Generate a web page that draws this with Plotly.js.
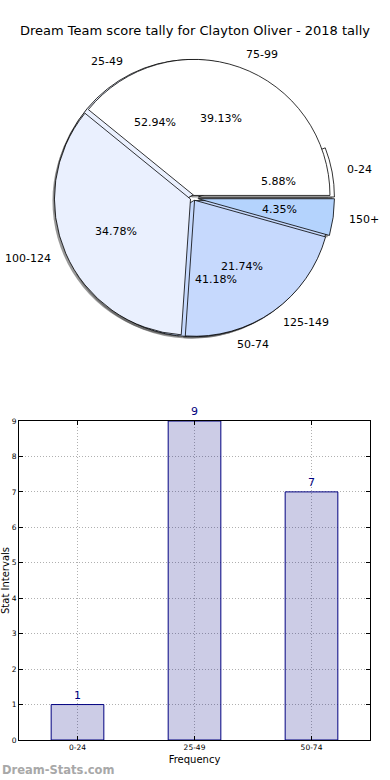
<!DOCTYPE html>
<html>
<head>
<meta charset="utf-8">
<script src="https://cdn.plot.ly/plotly-3.0.1.min.js"></script>
<style>html,body{margin:0;padding:0;background:#fff}#chart{width:390px;height:780px}</style>
</head>
<body>
<div id="chart"></div>
<script>
// ---- data ----
const titleText = "Dream Team score tally for Clayton Oliver - 2018 tally";
const pieALabels = ["0-24", "25-49", "50-74"];
const pieAValues = [1, 9, 7];
const pieAColors = ["#ffffff", "#eaf0fe", "#c6d9fd"];
const pieAPull = [0.04, 0.02, 0.02];
const pieBLabels = ["75-99", "100-124", "125-149", "150+"];
const pieBValues = [9, 8, 5, 1];
const pieBColors = ["#ffffff", "#eaf0fe", "#c6d9fd", "#b4d3fd"];
const pieBPull = [0.02, 0.02, 0.02, 0.04];
const barCats = ["0-24", "25-49", "50-74"];
const barValues = [1, 9, 7];
const yTicks = [0, 1, 2, 3, 4, 5, 6, 7, 8, 9];

// ---- layout geometry ----
const W = 390, H = 780;
const M = {l: 19, r: 20, t: 0, b: 40};
const plotW = W - M.l - M.r, plotH = H - M.t - M.b;
const pieCx = 193, pieCy = 198, pieHalf = 141.5;   // pixel centre and half-size of the pie domain
const pieDomX = [(pieCx - pieHalf - M.l) / plotW, (pieCx + pieHalf - M.l) / plotW];
const pieDomY = [(H - M.b - pieCy - pieHalf) / plotH, (H - M.b - pieCy + pieHalf) / plotH];
const maxPull = 0.04;
const FONT = "DejaVu Sans, sans-serif";

function pieTrace(labels, values, colors, pull, dx, dy, lineW) {
  const tot = values.reduce((a, b) => a + b, 0);
  // first slice starts at 3 o'clock and runs counterclockwise (matplotlib default)
  const rot = 90 - 360 * values[0] / tot;
  return {
    type: "pie", labels: labels, values: values, sort: false,
    direction: "counterclockwise", rotation: rot, pull: pull,
    marker: {colors: colors, line: {color: "#000", width: lineW}},
    textinfo: "none", hoverinfo: "skip", showlegend: false,
    domain: {x: [pieDomX[0] + dx / plotW, pieDomX[1] + dx / plotW],
             y: [pieDomY[0] + dy / plotH, pieDomY[1] + dy / plotH]}
  };
}

const shadowCol = v => v.map(() => "rgba(70,70,70,0.55)");
const traces = [
  pieTrace(pieALabels, pieAValues, shadowCol(pieAValues), pieAPull, -2, -2, 0),
  pieTrace(pieBLabels, pieBValues, shadowCol(pieBValues), pieBPull, -2, -2, 0),
  pieTrace(pieALabels, pieAValues, pieAColors, pieAPull, 0, 0, 0.8),
  pieTrace(pieBLabels, pieBValues, pieBColors, pieBPull, 0, 0, 0.8),
  {
    type: "bar", x: barCats, y: barValues, width: 0.45,
    marker: {color: "rgba(0,0,128,0.2)", line: {color: "#000080", width: 1}},
    text: barValues.map(String), textposition: "outside", cliponaxis: false,
    textfont: {color: "#000080", size: 11, family: FONT},
    hoverinfo: "skip", showlegend: false, xaxis: "x", yaxis: "y"
  }
];

// ---- pie text annotations (matplotlib-style placement computed from values) ----
const domWpx = plotW * (pieDomX[1] - pieDomX[0]);
const domHpx = plotH * (pieDomY[1] - pieDomY[0]);
const R = Math.min(domWpx, domHpx) / (2 + 2 * maxPull);
const cx = (pieDomX[0] + pieDomX[1]) / 2, cy = (pieDomY[0] + pieDomY[1]) / 2;
const annotations = [];
function pieAnnots(labels, values, pull) {
  const tot = values.reduce((a, b) => a + b, 0);
  let cum = 0;
  values.forEach((v, i) => {
    const mid = (cum + v / 2) / tot * 2 * Math.PI;
    cum += v;
    const c = Math.cos(mid), s = Math.sin(mid);
    const ox = pull[i] * R * c, oy = pull[i] * R * s;
    annotations.push({
      xref: "paper", yref: "paper", showarrow: false,
      x: cx + (ox + 0.6 * R * c) / plotW, y: cy + (oy + 0.6 * R * s) / plotH,
      text: (v / tot * 100).toFixed(2) + "%", xanchor: "center", yanchor: "middle",
      font: {size: 11, color: "#000", family: FONT}
    });
    annotations.push({
      xref: "paper", yref: "paper", showarrow: false,
      x: cx + (ox + 1.1 * R * c) / plotW, y: cy + (oy + 1.1 * R * s) / plotH,
      text: labels[i], xanchor: c > 0 ? "left" : "right", yanchor: "middle",
      font: {size: 11, color: "#000", family: FONT}
    });
  });
}
pieAnnots(pieALabels, pieAValues, pieAPull);
pieAnnots(pieBLabels, pieBValues, pieBPull);
annotations.push({
  xref: "paper", yref: "paper", showarrow: false,
  x: -M.l / plotW, y: -30 / plotH, xanchor: "left", yanchor: "middle",
  text: "<b>Dream-Stats.com</b>", font: {size: 11.5, color: "#a8a8a8", family: FONT}
});

const axisCommon = {
  showline: true, linecolor: "#000", linewidth: 1, mirror: "ticks",
  ticks: "inside", ticklen: 4, tickcolor: "#000",
  showgrid: true, gridcolor: "#b0b0b0", griddash: "1px,2px", gridwidth: 1,
  zeroline: false, tickfont: {size: 7.5, color: "#000", family: FONT}
};

const layout = {
  width: W, height: H, margin: M,
  paper_bgcolor: "#fff", plot_bgcolor: "#fff",
  font: {family: FONT, color: "#000"},
  title: {text: titleText, font: {size: 13, family: FONT, color: "#000"},
          x: 0.5, xref: "container", y: 1 - 30 / H, yref: "container", yanchor: "middle"},
  xaxis: Object.assign({}, axisCommon, {
    type: "category", range: [-0.5, 2.5], domain: [0, 1], anchor: "y",
    title: {text: "Frequency", font: {size: 10, family: FONT}, standoff: 4}
  }),
  yaxis: Object.assign({}, axisCommon, {
    range: [0, 9], tickvals: yTicks, domain: [0, (740 - 421) / plotH], anchor: "x",
    title: {text: "Stat Intervals", font: {size: 10, family: FONT}, standoff: 4}
  }),
  annotations: annotations,
  showlegend: false
};

Plotly.newPlot("chart", traces, layout, {displayModeBar: false, staticPlot: true});
</script>
</body>
</html>
